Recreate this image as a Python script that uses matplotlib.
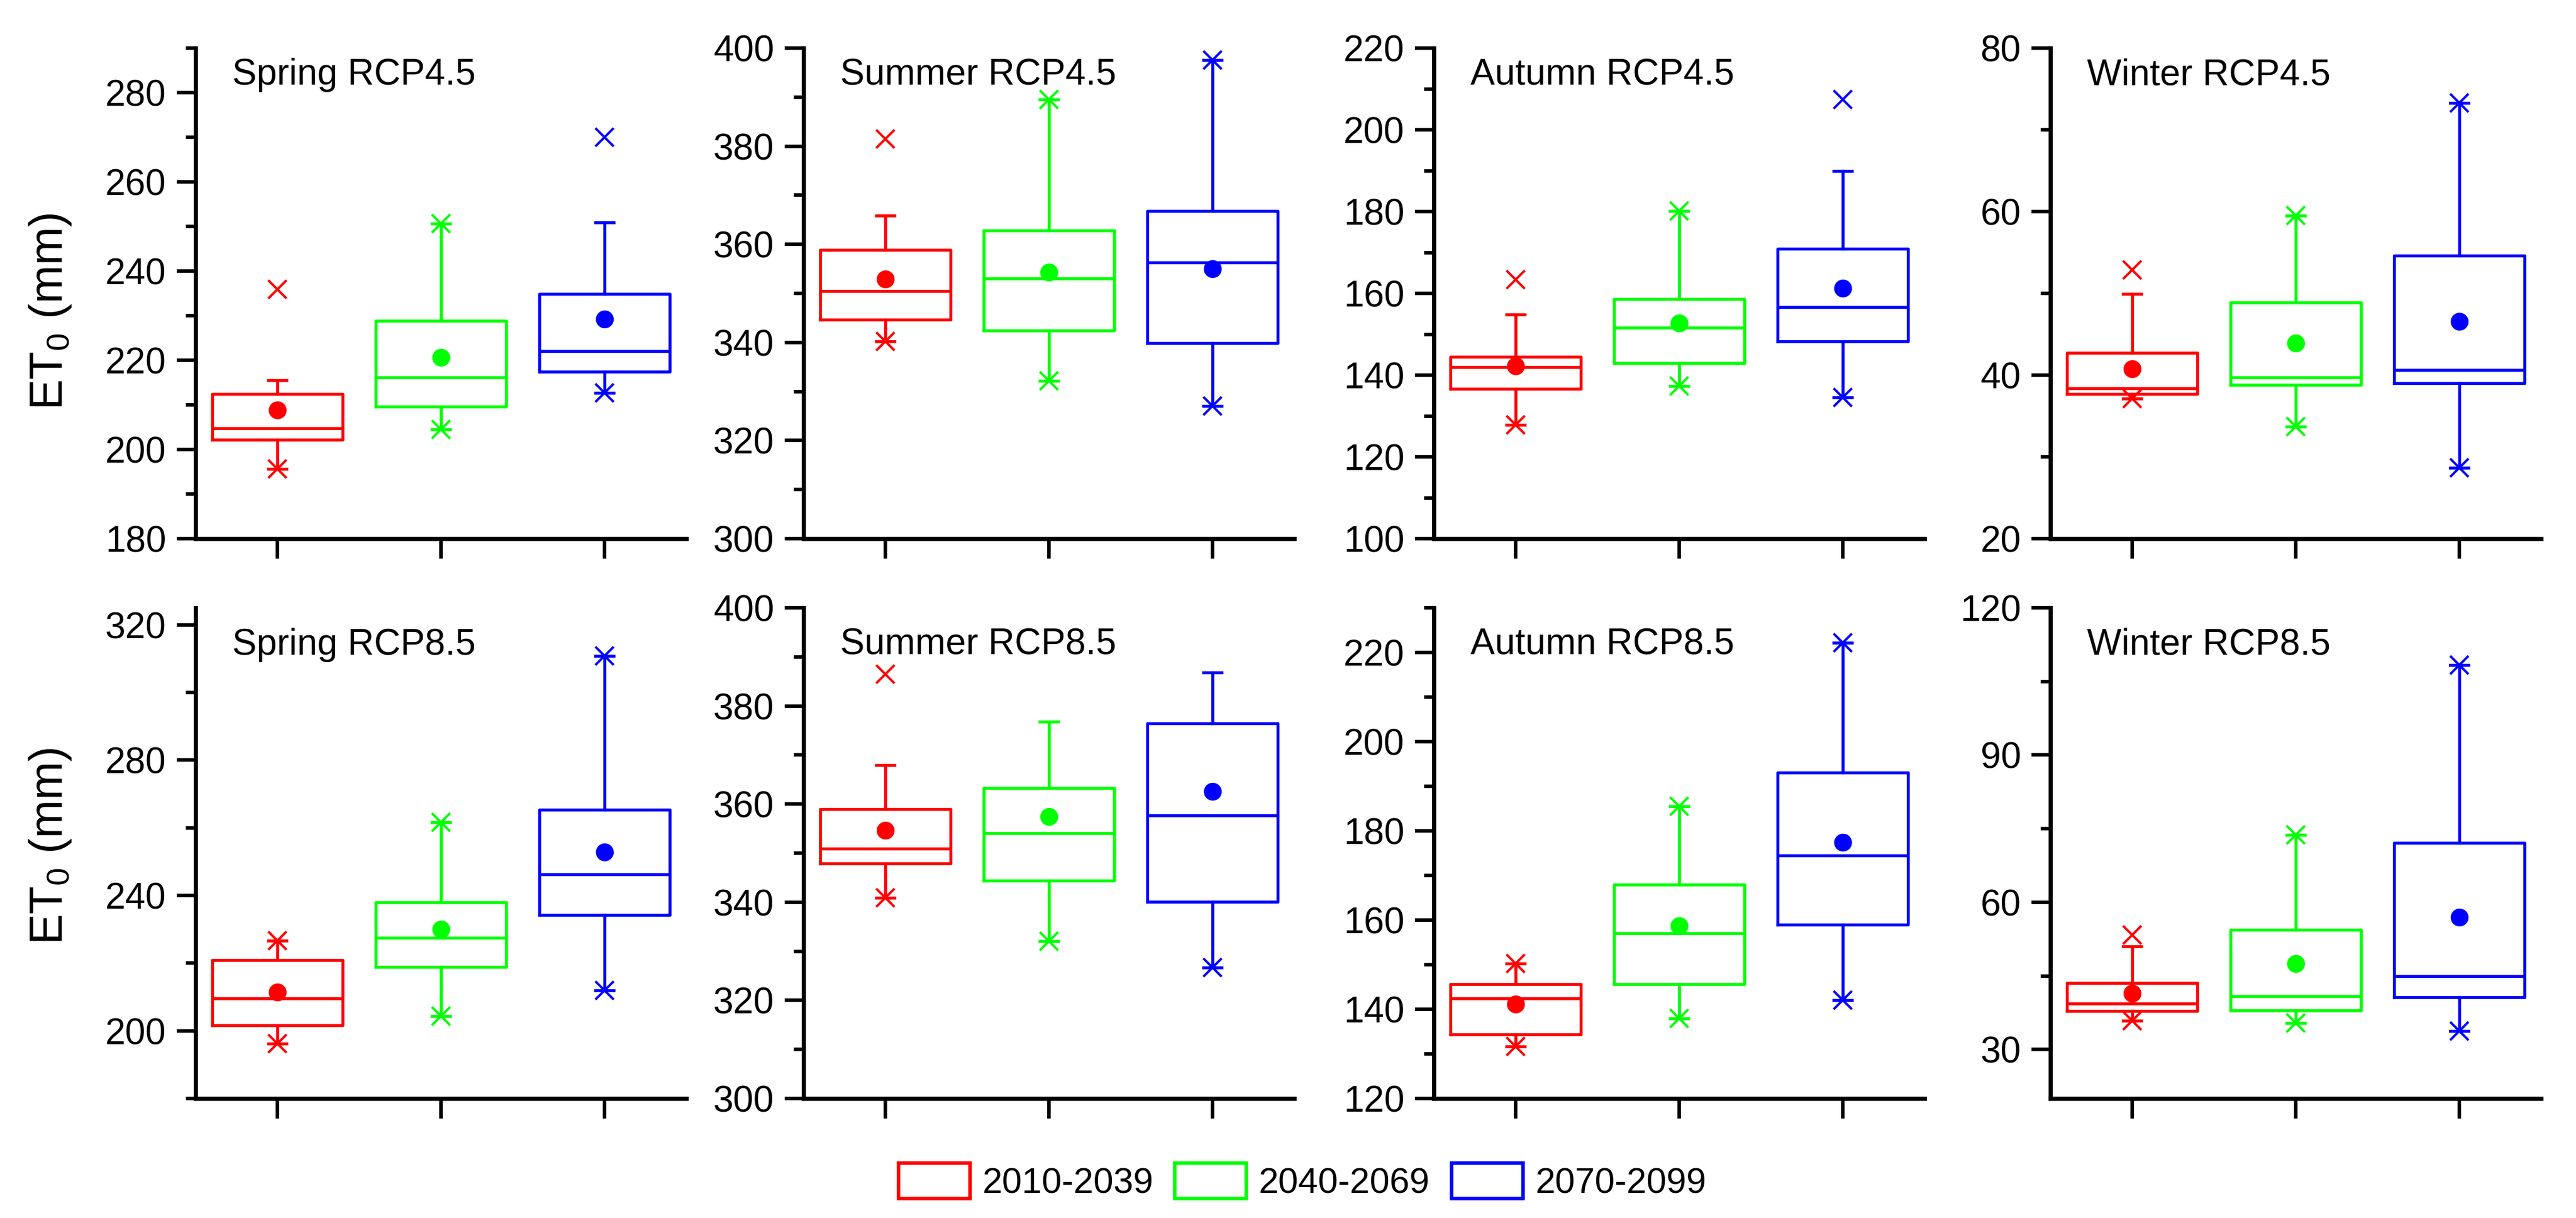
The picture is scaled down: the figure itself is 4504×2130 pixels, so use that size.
import matplotlib
matplotlib.use("Agg")
import numpy as np
import matplotlib.pyplot as plt
from matplotlib.patches import Patch
from matplotlib.ticker import MultipleLocator

plt.rcParams['font.family'] = ['Liberation Sans', 'DejaVu Sans']
plt.rcParams['mathtext.default'] = 'regular'

periods = ['2010-2039', '2040-2069', '2070-2099']
colors = ['#FF0000', '#00FF00', '#0000FF']

titles = ['Spring RCP4.5', 'Summer RCP4.5', 'Autumn RCP4.5', 'Winter RCP4.5',
          'Spring RCP8.5', 'Summer RCP8.5', 'Autumn RCP8.5', 'Winter RCP8.5']

# box statistics per panel, order: 2010-2039, 2040-2069, 2070-2099
q1 = [[202.2, 209.6, 217.4], [344.6, 342.4, 339.9], [136.7, 142.9, 148.3], [37.7, 38.8, 39.0],
      [201.6, 218.9, 234.3], [347.9, 344.4, 340.1], [134.4, 145.6, 159.0], [37.8, 38.0, 40.6]]
med = [[204.7, 216.1, 222.0], [350.5, 353.0, 356.3], [141.9, 151.6, 156.6], [38.4, 39.7, 40.6],
       [209.5, 227.5, 246.2], [350.9, 354.1, 357.7], [142.4, 157.1, 174.5], [39.3, 40.9, 44.9]]
q3 = [[212.4, 228.8, 234.9], [358.9, 362.8, 366.8], [144.5, 158.6, 170.9], [42.7, 48.9, 54.6],
      [220.9, 237.9, 265.3], [359.0, 363.3, 376.4], [145.6, 168.0, 193.1], [43.6, 54.4, 72.1]]
mean = [[208.8, 220.6, 229.2], [352.9, 354.3, 355.0], [142.3, 152.7, 161.2], [40.8, 43.9, 46.6],
        [211.4, 230.1, 252.9], [354.7, 357.5, 362.6], [141.1, 158.7, 177.4], [41.5, 47.5, 57.0]]
whislo = [[195.7, 204.5, 212.7], [340.2, 332.2, 327.0], [127.8, 137.3, 134.5], [37.1, 33.7, 28.7],
          [196.2, 204.3, 211.9], [340.9, 332.1, 326.7], [131.7, 137.9, 142.0], [35.8, 35.4, 33.7]]
whishi = [[215.5, 250.6, 250.9], [365.9, 389.5, 397.6], [154.8, 180.1, 189.9], [49.9, 59.5, 73.3],
          [226.7, 261.6, 310.8], [368.0, 376.8, 386.8], [150.3, 185.5, 222.2], [51.0, 73.7, 108.3]]
# cross markers (minimum / maximum)
xmin = whislo
xmax = [[235.9, 250.6, 270.0], [381.5, 389.5, 397.6], [163.4, 180.1, 207.4], [52.9, 59.5, 73.3],
        [226.7, 261.6, 310.8], [386.5, np.nan, np.nan], [150.3, 185.5, 222.2], [53.3, 73.7, 108.3]]

ylims = [(180, 290), (300, 400), (100, 220), (20, 80),
         (180, 325), (300, 400), (120, 230), (20, 120)]
major_step = [20, 20, 20, 20, 40, 20, 20, 30]

W, H = 4504, 2130
col_left = [342, 1405, 2507, 3585]
row_top = [84, 1063]
ax_w, ax_h = 858, 858

fig = plt.figure(figsize=(W / 100, H / 100), dpi=100)

for i in range(8):
    r, c = divmod(i, 4)
    ax = fig.add_axes([col_left[c] / W, 1 - (row_top[r] + ax_h) / H, ax_w / W, ax_h / H])
    stats = [dict(q1=q1[i][j], med=med[i][j], q3=q3[i][j], whislo=whislo[i][j],
                  whishi=whishi[i][j], mean=mean[i][j], fliers=[]) for j in range(3)]
    lw = 3.8
    art = ax.bxp(stats, positions=[1, 2, 3], widths=0.8, showfliers=False,
                 showmeans=False, capwidths=0.115, manage_ticks=False,
                 boxprops=dict(linewidth=lw), whiskerprops=dict(linewidth=lw),
                 capprops=dict(linewidth=lw), medianprops=dict(linewidth=lw))
    for j, col in enumerate(colors):
        art['boxes'][j].set_color(col)
        art['medians'][j].set_color(col)
        for k in (2 * j, 2 * j + 1):
            art['whiskers'][k].set_color(col)
            art['caps'][k].set_color(col)
        ax.plot(j + 1, mean[i][j], 'o', color=col, markersize=21.5, zorder=4)
        ax.plot([j + 1, j + 1], [xmin[i][j], xmax[i][j]], 'x', color=col,
                markersize=23, markeredgewidth=3, linestyle='none', zorder=4)

    ax.set_xlim(0.5, 3.5)
    ax.set_ylim(*ylims[i])
    ax.set_xticks([1, 2, 3])
    ax.set_xticklabels([])
    ax.yaxis.set_major_locator(MultipleLocator(major_step[i]))
    ax.yaxis.set_minor_locator(MultipleLocator(major_step[i] / 2))
    for s in ('top', 'right'):
        ax.spines[s].set_visible(False)
    for s in ('left', 'bottom'):
        ax.spines[s].set_linewidth(5.3)
    ax.tick_params(axis='y', which='major', length=24, width=4.5, labelsize=46, pad=13)
    ax.tick_params(axis='y', which='minor', length=12, width=4.5)
    ax.tick_params(axis='x', which='major', length=25, width=4.5)
    ax.text(0.075, 0.925 if r == 0 else 0.905, titles[i], transform=ax.transAxes,
            fontsize=46, va='baseline', ha='left')

for yc in (545, 1480):
    fig.text(88 / W, 1 - yc / H, r'ET$_{0}$ (mm)', rotation=90, ha='center', va='center',
             fontsize=58)

handles = [Patch(facecolor='white', edgecolor=c, linewidth=4.5, label=p)
           for c, p in zip(colors, periods)]
fig.legend(handles=handles, loc='center', bbox_to_anchor=(0.5056, 0.0296), ncol=3,
           frameon=False, fontsize=45, handlelength=2.0, handleheight=1.15,
           handletextpad=0.35, columnspacing=0.6)

fig.savefig('out.png', dpi=100)
